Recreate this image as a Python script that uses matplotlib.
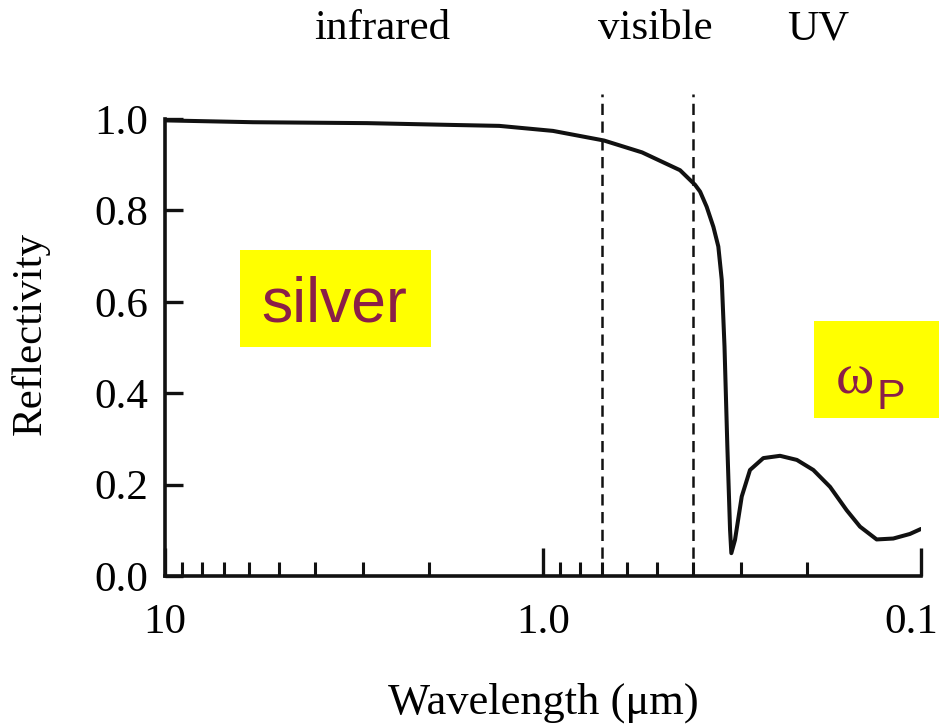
import matplotlib
matplotlib.use("Agg")
import matplotlib.pyplot as plt
from matplotlib.patches import Rectangle
from matplotlib.ticker import FixedLocator, FixedFormatter, NullFormatter
from matplotlib.transforms import ScaledTranslation

# ---- data ----
wavelength = [10, 5.85, 2.92, 1.73, 1.305, 0.941, 0.69, 0.547, 0.434, 0.396,
              0.384, 0.369, 0.3542, 0.3437, 0.3366, 0.331, 0.3253, 0.320,
              0.3175, 0.3105, 0.298, 0.2834, 0.2613, 0.236, 0.213, 0.1927,
              0.174, 0.1573, 0.145, 0.131, 0.1184, 0.107, 0.1]
reflectivity = [0.997, 0.993, 0.991, 0.987, 0.985, 0.974, 0.953, 0.927, 0.888, 0.856,
                0.841, 0.808, 0.764, 0.721, 0.648, 0.502, 0.283, 0.101,
                0.050, 0.079, 0.174, 0.232, 0.258, 0.263, 0.254, 0.232,
                0.195, 0.144, 0.108, 0.080, 0.082, 0.092, 0.103]
band_edges = [0.7, 0.4]
x_major = [10, 1.0, 0.1]
x_major_labels = ["10", "1.0", "0.1"]
x_minor = [9, 8, 7, 6, 5, 4, 3, 2, 0.9, 0.8, 0.7, 0.6, 0.5, 0.4, 0.3, 0.2]
y_ticks = [0.0, 0.2, 0.4, 0.6, 0.8, 1.0]
y_tick_labels = ["0.0", "0.2", "0.4", "0.6", "0.8", "1.0"]
region_labels = ["infrared", "visible", "UV"]

SERIF = ["Liberation Serif", "DejaVu Serif"]
SANS = ["Liberation Sans", "DejaVu Sans"]
MAROON = "#8a1f48"
W, H = 941, 728

fig = plt.figure(figsize=(W / 100, H / 100), dpi=100)
ax = fig.add_axes([165 / W, 1 - 576 / H, 756 / W, (576 - 91.6) / H])

ax.plot(wavelength, reflectivity, color="#111111", lw=2.9,
        solid_joinstyle="round", solid_capstyle="round", zorder=3)
for b in band_edges:
    ax.plot([b, b], [0, 1.055], color="#111111", lw=1.8,
            ls=(0, (4.5, 2.6)), clip_on=False, zorder=2)

ax.set_xscale("log")
ax.set_xlim(10, 0.1)
ax.set_ylim(0, 1.06)

ax.xaxis.set_major_locator(FixedLocator(x_major))
ax.xaxis.set_major_formatter(FixedFormatter(x_major_labels))
ax.xaxis.set_minor_locator(FixedLocator(x_minor))
ax.xaxis.set_minor_formatter(NullFormatter())
ax.yaxis.set_major_locator(FixedLocator(y_ticks))
ax.yaxis.set_major_formatter(FixedFormatter(y_tick_labels))

for s in ["top", "right"]:
    ax.spines[s].set_visible(False)
ax.spines["left"].set_bounds(0, 1.0)
for s in ["left", "bottom"]:
    ax.spines[s].set_linewidth(2.6)
    ax.spines[s].set_color("#111111")

ax.tick_params(axis="x", which="major", direction="in", length=20, width=2.4,
               pad=20, labelsize=31, color="#111111")
ax.tick_params(axis="x", which="minor", direction="in", length=10, width=2.2,
               color="#111111")
ax.tick_params(axis="y", which="major", direction="in", length=13, width=2.4,
               pad=12, labelsize=31, color="#111111")
for lab in ax.get_xticklabels() + ax.get_yticklabels():
    lab.set_family(SERIF)

# nudge the rightmost x tick label inward as in the reference
last_tick = ax.xaxis.get_major_ticks()[-1]
last_tick.label1.set_transform(last_tick.label1.get_transform()
                               + ScaledTranslation(-10 / 100, 0, fig.dpi_scale_trans))

ax.set_xlabel("Wavelength (μm)", family=SERIF, fontsize=32, labelpad=29)
ax.set_ylabel("Reflectivity", family=SERIF, fontsize=31, labelpad=32)

for t, px in zip(region_labels, [382, 655, 818]):
    fig.text(px / W, 1 - 29 / H, t, family=SERIF, fontsize=31,
             ha="center", va="center")

# annotation boxes
fig.patches.append(Rectangle((240 / W, 1 - 347 / H), 191 / W, 97 / H,
                             transform=fig.transFigure, facecolor="#ffff00",
                             edgecolor="none", zorder=5))
fig.text(334 / W, 1 - 322 / H, "silver", family=SANS, fontsize=45,
         color=MAROON, ha="center", va="baseline", zorder=6)

fig.patches.append(Rectangle((814 / W, 1 - 418 / H), 125 / W, 97 / H,
                             transform=fig.transFigure, facecolor="#ffff00",
                             edgecolor="none", zorder=5))
fig.text(836 / W, 1 - 393 / H, "ω", family=SERIF, fontsize=42,
         color=MAROON, ha="left", va="baseline", zorder=6)
fig.text(877 / W, 1 - 409 / H, "P", family=SANS, fontsize=31,
         color=MAROON, ha="left", va="baseline", zorder=6)

fig.savefig("out.png", dpi=100, facecolor="white")
